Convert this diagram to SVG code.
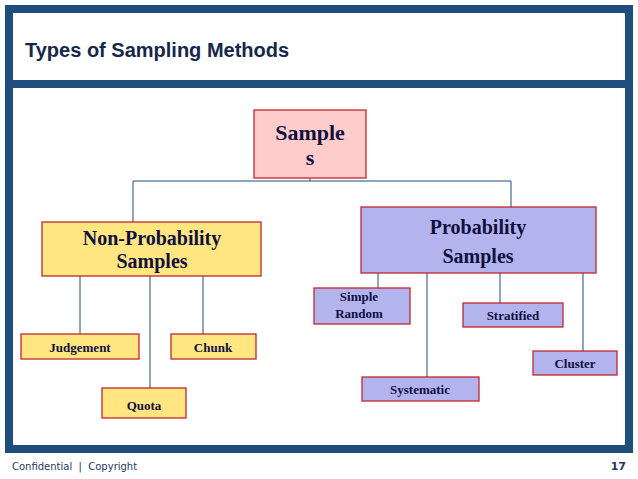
<svg xmlns="http://www.w3.org/2000/svg" width="638" height="479" viewBox="0 0 638 479">
<style>
.n{stroke:#c0272d;stroke-width:1.3}
.y{fill:#ffe680}.p{fill:#b3b3ee}.k{fill:#ffcccc}
text.t{font-family:"Liberation Serif",serif;font-weight:bold;fill:#101040;text-anchor:middle}
.s{font-size:13px}
.c line{stroke:#1f4e79;stroke-width:1}
</style>
<rect width="638" height="479" fill="#fff"/>
<rect x="9" y="9" width="620" height="440" fill="none" stroke="#1f4e7d" stroke-width="8"/>
<rect x="9" y="80" width="620" height="8" fill="#1f4e7d"/>
<text x="25" y="57" font-family="Liberation Sans,Arial,sans-serif" font-weight="bold" font-size="20" fill="#14284a">Types of Sampling Methods</text>
<text x="12" y="470" font-family="DejaVu Sans,sans-serif" font-size="10" fill="#1f3a60" xml:space="preserve">Confidential  |  Copyright</text>
<text x="626" y="470" text-anchor="end" font-family="DejaVu Sans,sans-serif" font-weight="bold" font-size="11" fill="#1f3a60">17</text>
<g class="c">
<line x1="310" y1="178" x2="310" y2="181"/>
<line x1="133" y1="181" x2="511" y2="181"/>
<line x1="133" y1="181" x2="133" y2="222"/>
<line x1="511" y1="181" x2="511" y2="207"/>
<line x1="80" y1="276" x2="80" y2="334"/>
<line x1="150" y1="276" x2="150" y2="388"/>
<line x1="203" y1="276" x2="203" y2="334"/>
<line x1="378" y1="273" x2="378" y2="288"/>
<line x1="427" y1="273" x2="427" y2="377"/>
<line x1="500" y1="273" x2="500" y2="303"/>
<line x1="583" y1="273" x2="583" y2="351"/>
</g>
<g id="samples"><rect class="n k" x="254" y="110" width="112" height="68"/><text class="t" x="310" y="140" font-size="22">Sample</text><text class="t" x="310" y="165" font-size="22">s</text></g>
<g id="nonprob"><rect class="n y" x="42" y="222" width="219" height="54"/><text class="t" x="152" y="245" font-size="20">Non-Probability</text><text class="t" x="152" y="268" font-size="20">Samples</text></g>
<g id="prob"><rect class="n p" x="361" y="207" width="235" height="66"/><text class="t" x="478" y="234" font-size="20">Probability</text><text class="t" x="478" y="263" font-size="20">Samples</text></g>
<g id="judgement"><rect class="n y" x="21" y="334" width="118" height="25"/><text class="t s" x="80" y="352">Judgement</text></g>
<g id="chunk"><rect class="n y" x="171" y="334" width="85" height="25"/><text class="t s" x="213" y="352">Chunk</text></g>
<g id="quota"><rect class="n y" x="102" y="388" width="84" height="30"/><text class="t s" x="144" y="410">Quota</text></g>
<g id="simple"><rect class="n p" x="314" y="288" width="96" height="36"/><text class="t s" x="359" y="301">Simple</text><text class="t s" x="359" y="318">Random</text></g>
<g id="stratified"><rect class="n p" x="463" y="303" width="100" height="24"/><text class="t s" x="513" y="320">Stratified</text></g>
<g id="systematic"><rect class="n p" x="362" y="377" width="117" height="24"/><text class="t s" x="420" y="394">Systematic</text></g>
<g id="cluster"><rect class="n p" x="533" y="351" width="84" height="24"/><text class="t s" x="575" y="368">Cluster</text></g>
</svg>
